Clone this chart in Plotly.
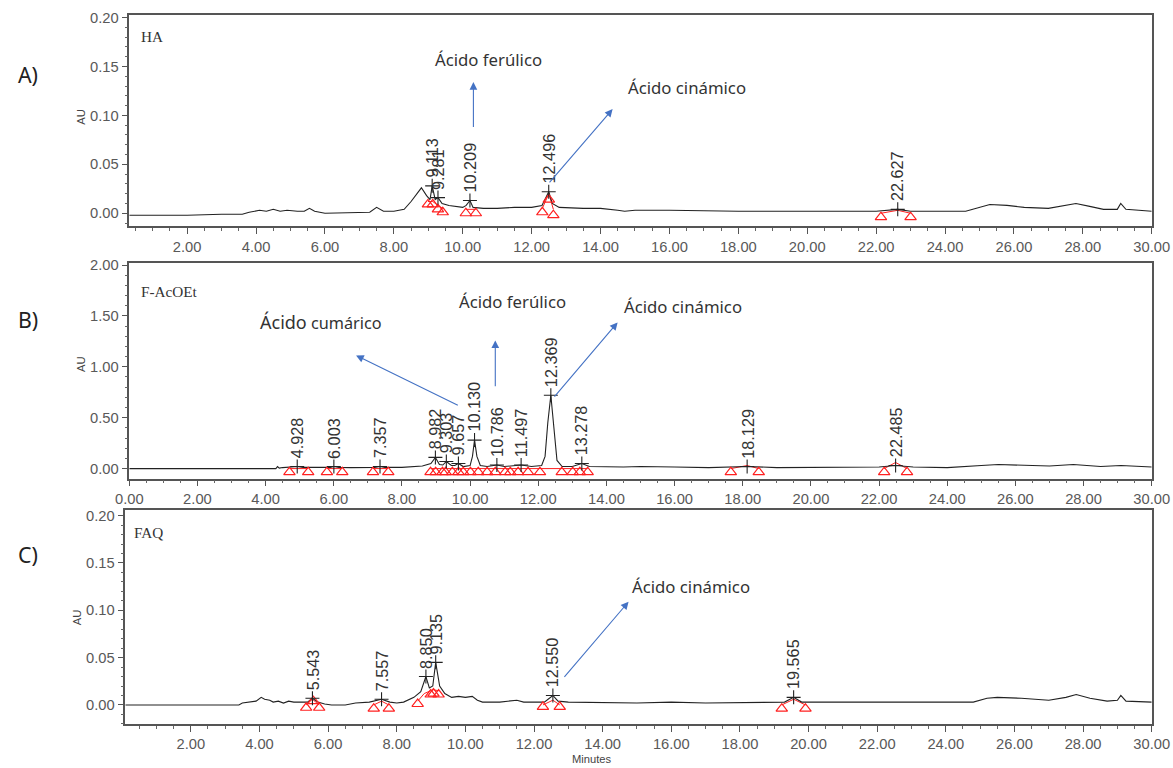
import plotly.graph_objects as go

# ---------------- Panel A : HA ----------------
time_A = [0.32, 1.0, 2.0, 3.0, 3.6, 3.8, 4.0, 4.1, 4.3, 4.5, 4.7, 4.9, 5.2, 5.4, 5.55, 5.7, 6.0,
          7.0, 7.3, 7.5, 7.7, 8.0, 8.3, 8.5, 8.7, 8.8, 8.95, 9.05, 9.113, 9.2, 9.281, 9.4, 9.6,
          9.8, 10.0, 10.1, 10.209, 10.3, 10.6, 11.0, 11.5, 12.0, 12.3, 12.4, 12.496, 12.6, 12.8,
          13.5, 14.0, 14.5, 14.7, 15.0, 16.0, 18.0, 20.0, 22.0, 22.627, 23.0, 24.6, 25.0, 25.3,
          25.8, 26.3, 27.0, 27.5, 27.8, 28.2, 28.6, 29.0, 29.1, 29.25, 29.6, 30.0]
au_A = [-0.002, -0.002, -0.002, -0.001, -0.001, 0.001, 0.002, 0.003, 0.002, 0.004, 0.002, 0.003,
        0.002, 0.002, 0.005, 0.002, 0.0, 0.001, 0.001, 0.006, 0.002, 0.002, 0.004, 0.012, 0.022,
        0.026, 0.018, 0.014, 0.028, 0.014, 0.016, 0.010, 0.008, 0.007, 0.006, 0.008, 0.013, 0.006,
        0.005, 0.005, 0.006, 0.006, 0.008, 0.015, 0.022, 0.010, 0.006, 0.005, 0.005, 0.003, 0.002,
        0.003, 0.003, 0.002, 0.002, 0.002, 0.004, 0.002, 0.002, 0.006, 0.009, 0.008, 0.006, 0.005,
        0.008, 0.010, 0.007, 0.004, 0.004, 0.010, 0.004, 0.003, 0.002]
peak_rt_A = [9.113, 9.281, 10.209, 12.496, 22.627]
peak_au_A = [0.028, 0.016, 0.013, 0.022, 0.004]
tri_t_A = [8.99, 9.13, 9.28, 9.42, 10.09, 10.38, 12.31, 12.50, 12.63, 22.14, 23.0]
tri_au_A = [0.009, 0.009, 0.004, 0.001, 0.0, 0.0, 0.001, 0.014, -0.002, -0.004, -0.004]
base_t_A = [8.99, 9.13, 9.28, 9.42, None, 10.09, 10.38, None, 12.31, 12.50, 12.63, None, 22.14, 22.627, 23.0]
base_au_A = [0.012, 0.012, 0.008, 0.005, None, 0.004, 0.004, None, 0.005, 0.02, 0.004, None, 0.0, 0.003, 0.0]

# ---------------- Panel B : F-AcOEt ----------------
time_B = [0.0, 4.3, 4.35, 4.4, 4.5, 4.8, 4.928, 5.1, 5.5, 5.9, 6.003, 6.15, 6.5, 7.2, 7.357, 7.5,
          8.0, 8.6, 8.85, 8.982, 9.1, 9.2, 9.303, 9.45, 9.55, 9.657, 9.8, 10.0, 10.07, 10.13, 10.2,
          10.3, 10.5, 10.786, 11.0, 11.497, 11.8, 12.1, 12.2, 12.28, 12.369, 12.45, 12.55, 12.7,
          13.0, 13.278, 13.5, 14.5, 15.0, 16.0, 17.0, 18.129, 19.0, 22.0, 22.485, 23.0, 24.0,
          25.0, 25.5, 26.5, 27.0, 27.7, 28.5, 29.1, 30.0]
au_B = [0.0, 0.0, 0.02, 0.005, 0.01, 0.012, 0.02, 0.012, 0.01, 0.012, 0.02, 0.012, 0.01, 0.012,
        0.02, 0.012, 0.012, 0.025, 0.05, 0.11, 0.04, 0.035, 0.07, 0.03, 0.03, 0.05, 0.02, 0.03,
        0.12, 0.28, 0.12, 0.03, 0.02, 0.035, 0.02, 0.035, 0.02, 0.03, 0.12, 0.45, 0.72, 0.45, 0.08,
        0.02, 0.02, 0.05, 0.02, 0.015, 0.02, 0.015, 0.01, 0.02, 0.01, 0.015, 0.03, 0.015, 0.01,
        0.03, 0.04, 0.03, 0.025, 0.04, 0.02, 0.03, 0.015]
peak_rt_B = [4.928, 6.003, 7.357, 8.982, 9.303, 9.657, 10.130, 10.786, 11.497, 12.369, 13.278, 18.129, 22.485]
peak_au_B = [0.02, 0.02, 0.02, 0.11, 0.07, 0.05, 0.28, 0.035, 0.035, 0.72, 0.05, 0.02, 0.03]
tri_t_B = [4.7, 5.25, 5.8, 6.25, 7.15, 7.6, 8.84, 8.99, 9.19, 9.28, 9.48, 9.66, 9.80, 10.01, 10.24,
           10.50, 10.74, 11.03, 11.18, 11.41, 11.70, 12.05, 12.69, 13.01, 13.22, 13.45, 17.65, 18.47,
           22.15, 22.82]
tri_au_B = [-0.035] * len(tri_t_B)
base_t_B = [4.7, 5.25, None, 5.8, 6.25, None, 7.15, 7.6, None, 8.84, 13.45, None, 17.65, 18.129, 18.47,
            None, 22.15, 22.485, 22.82]
base_au_B = [0.0, 0.0, None, 0.0, 0.0, None, 0.0, 0.0, None, 0.0, 0.0, None, 0.0, 0.03, 0.0,
             None, 0.0, 0.06, 0.0]

# ---------------- Panel C : FAQ ----------------
time_C = [0.09, 3.4, 3.5, 3.7, 3.9, 4.05, 4.15, 4.3, 4.4, 4.55, 4.7, 4.85, 5.0, 5.2, 5.4, 5.543,
          5.7, 5.9, 6.1, 6.5, 6.8, 7.2, 7.557, 7.8, 8.0, 8.2, 8.5, 8.7, 8.85, 8.95, 9.05, 9.135,
          9.25, 9.4, 9.6, 9.8, 10.0, 10.2, 10.35, 10.5, 11.0, 11.5, 11.7, 12.3, 12.55, 12.7, 13.0,
          15.0, 16.0, 17.0, 19.3, 19.565, 19.8, 24.8, 25.2, 25.5, 26.2, 27.0, 27.5, 27.8, 28.2,
          28.7, 29.0, 29.1, 29.25, 30.0]
au_C = [0.0, 0.0, 0.002, 0.003, 0.004, 0.008, 0.006, 0.005, 0.003, 0.004, 0.002, 0.004, 0.003,
        0.003, 0.003, 0.007, 0.003, 0.001, 0.0, 0.0, 0.002, 0.003, 0.006, 0.003, 0.002, 0.003,
        0.008, 0.014, 0.030, 0.018, 0.020, 0.045, 0.020, 0.012, 0.008, 0.009, 0.008, 0.009, 0.005,
        0.003, 0.003, 0.005, 0.003, 0.003, 0.010, 0.004, 0.003, 0.002, 0.003, 0.002, 0.003, 0.008,
        0.003, 0.003, 0.007, 0.008, 0.007, 0.005, 0.008, 0.011, 0.007, 0.004, 0.005, 0.010, 0.004,
        0.003]
peak_rt_C = [5.543, 7.557, 8.850, 9.135, 12.550, 19.565]
peak_au_C = [0.007, 0.006, 0.030, 0.045, 0.010, 0.008]
tri_t_C = [5.36, 5.57, 5.74, 7.33, 7.77, 8.61, 8.99, 9.07, 9.22, 12.26, 12.75, 19.22, 19.91]
tri_au_C = [-0.003, 0.004, -0.003, -0.004, -0.004, 0.001, 0.011, 0.012, 0.011, -0.002, -0.002, -0.004, -0.004]
base_t_C = [5.36, 5.543, 5.74, None, 7.33, 7.557, 7.77, None, 8.61, 8.8, 8.99, 9.07, 9.22, None,
            12.26, 12.55, 12.75, None, 19.22, 19.565, 19.91]
base_au_C = [0.0, 0.006, 0.0, None, 0.0, 0.004, 0.0, None, 0.004, 0.012, 0.015, 0.016, 0.015, None,
             0.0, 0.005, 0.0, None, 0.0, 0.006, 0.0]

FW, FH = 1173, 768
# correction for how the page is photographed (measured with a calibration run)
SX, OX = 0.978, 11.1
SY, OY = 0.991, 7.0
FS = 1.015  # small font compensation for the photo scale

fig = go.Figure()


def px_x(p):
    return ((p - OX) / SX) / FW


def px_y(p):
    return 1 - ((p - OY) / SY) / FH


panels = [
    dict(xa="x", ya="y", t=time_A, v=au_A, prt=peak_rt_A, pau=peak_au_A,
         tt=tri_t_A, tv=tri_au_A, bt=base_t_A, bv=base_au_A),
    dict(xa="x2", ya="y2", t=time_B, v=au_B, prt=peak_rt_B, pau=peak_au_B,
         tt=tri_t_B, tv=tri_au_B, bt=base_t_B, bv=base_au_B),
    dict(xa="x3", ya="y3", t=time_C, v=au_C, prt=peak_rt_C, pau=peak_au_C,
         tt=tri_t_C, tv=tri_au_C, bt=base_t_C, bv=base_au_C),
]

annotations = []
for p in panels:
    fig.add_trace(go.Scatter(x=p["bt"], y=p["bv"], mode="lines", line=dict(color="#ff2020", width=1),
                             xaxis=p["xa"], yaxis=p["ya"], showlegend=False, hoverinfo="skip"))
    fig.add_trace(go.Scatter(x=p["t"], y=p["v"], mode="lines", line=dict(color="#222222", width=1.1),
                             xaxis=p["xa"], yaxis=p["ya"], showlegend=False))
    fig.add_trace(go.Scatter(x=p["tt"], y=p["tv"], mode="markers",
                             marker=dict(symbol="triangle-up-open", size=10, color="#ff2020",
                                         line=dict(width=1.2, color="#ff2020")),
                             xaxis=p["xa"], yaxis=p["ya"], showlegend=False))
    fig.add_trace(go.Scatter(x=p["prt"], y=p["pau"], mode="markers",
                             marker=dict(symbol="cross-thin", size=10, color="#222222",
                                         line=dict(width=1.1, color="#222222")),
                             xaxis=p["xa"], yaxis=p["ya"], showlegend=False))
    for rt, h in zip(p["prt"], p["pau"]):
        annotations.append(dict(x=rt, y=h, xref=p["xa"], yref=p["ya"], text=f"{rt:.3f}",
                                showarrow=False, textangle=-90, xanchor="center", yanchor="bottom",
                                yshift=6, font=dict(family="Liberation Sans", size=16 * FS, color="#333333")))

axis_common = dict(showline=True, linecolor="#555555", linewidth=1.5, mirror=True, ticks="outside",
                   ticklen=6, tickwidth=1.2, tickcolor="#555555", showgrid=False, zeroline=False,
                   ticklabeloverflow="allow",
                   tickfont=dict(family="Liberation Sans", size=14.5 * FS, color="#595959"))
minor_x = dict(dtick=0.5, ticklen=3, tickcolor="#666666", ticks="outside", tickwidth=1)

xdom_AB = [px_x(127), px_x(1155)]
xdom_C = [px_x(123), px_x(1155)]

fig.update_layout(
    width=FW, height=FH, margin=dict(l=0, r=0, t=0, b=0),
    paper_bgcolor="white", plot_bgcolor="white", showlegend=False,
    xaxis=dict(domain=xdom_AB, range=[0.32, 30.0], anchor="y", tickvals=list(range(2, 31, 2)),
               tickformat=".2f", minor=minor_x, **axis_common),
    yaxis=dict(domain=[px_y(227), px_y(16)], range=[-0.0133, 0.2026], anchor="x",
               tickvals=[0, 0.05, 0.1, 0.15, 0.2], tickformat=".2f",
               minor=dict(dtick=0.01, ticklen=3, tickcolor="#666666", ticks="outside"), **axis_common),
    xaxis2=dict(domain=xdom_AB, range=[0.0, 30.0], anchor="y2", tickvals=list(range(0, 31, 2)),
                tickformat=".2f", minor=minor_x, **axis_common),
    yaxis2=dict(domain=[px_y(479), px_y(264)], range=[-0.098, 2.017], anchor="x2",
                tickvals=[0, 0.5, 1.0, 1.5, 2.0], tickformat=".2f",
                minor=dict(dtick=0.1, ticklen=3, tickcolor="#666666", ticks="outside"), **axis_common),
    xaxis3=dict(domain=xdom_C, range=[0.09, 30.0], anchor="y3", tickvals=list(range(2, 31, 2)),
                tickformat=".2f", minor=minor_x, **axis_common),
    yaxis3=dict(domain=[px_y(724), px_y(510)], range=[-0.020, 0.2064], anchor="x3",
                tickvals=[0, 0.05, 0.1, 0.15, 0.2], tickformat=".2f",
                minor=dict(dtick=0.01, ticklen=3, tickcolor="#666666", ticks="outside"), **axis_common),
)


def txt(x, y, s, size, family, color="#333333", anchor="center", angle=0):
    annotations.append(dict(x=px_x(x), y=px_y(y), xref="paper", yref="paper", text=s, showarrow=False,
                            xanchor=anchor, yanchor="middle", textangle=angle,
                            font=dict(family=family, size=size * FS, color=color)))


def arrow(tx, ty, hx, hy):
    annotations.append(dict(x=px_x(hx), y=px_y(hy), xref="paper", yref="paper", text="",
                            showarrow=True, ax=(tx - hx) / SX, ay=(ty - hy) / SY,
                            axref="pixel", ayref="pixel",
                            arrowhead=2, arrowsize=1.4, arrowwidth=1.1, arrowcolor="#4472C4"))


# panel letters
txt(25, 75, "A)", 21, "Noto Sans", "#222222")
txt(25, 320, "B)", 21, "Noto Sans", "#222222")
txt(25, 555, "C)", 21, "Noto Sans", "#222222")
# sample names
txt(137, 37, "HA", 15, "Liberation Serif", "#333333", anchor="left")
txt(137, 292, "F-AcOEt", 15, "Liberation Serif", "#333333", anchor="left")
txt(130, 533, "FAQ", 15, "Liberation Serif", "#333333", anchor="left")
# AU titles
txt(79, 118, "AU", 11, "Liberation Sans", "#444444", angle=-90)
txt(79, 365, "AU", 11, "Liberation Sans", "#444444", angle=-90)
txt(74, 618, "AU", 11, "Liberation Sans", "#444444", angle=-90)
# Minutes
txt(592, 759, "Minutes", 11, "Liberation Sans", "#444444")

# compound annotations
txt(488, 60, "Ácido ferúlico", 16.5, "Noto Sans")
arrow(473, 129, 473, 83)
txt(688, 88, "Ácido cinámico", 16.5, "Noto Sans")
arrow(550, 184, 613, 110)

txt(320, 323, '<span style="font-size:18px">Ácido</span> cumárico', 16, "Noto Sans")
arrow(456, 406, 355, 356)
txt(512, 302, "Ácido ferúlico", 16.5, "Noto Sans")
arrow(495, 388, 495, 341)
txt(684, 307, "Ácido cinámico", 16.5, "Noto Sans")
arrow(555, 398, 618, 323)

txt(692, 587, "Ácido cinámico", 16.5, "Noto Sans")
arrow(565, 678, 629, 602)

fig.update_layout(annotations=annotations)
fig.write_html("out.html", config={"displayModeBar": False},
               post_script="document.body.style.margin='0px';document.body.style.overflow='hidden';")
